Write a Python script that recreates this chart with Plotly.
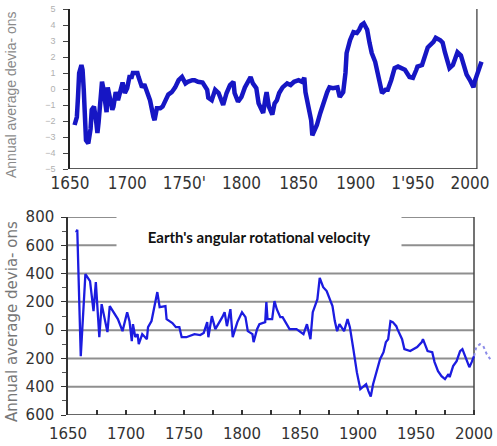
import plotly.graph_objects as go

# ---------------- data ----------------
# Top panel: annual average deviations (upper chart)
top_years = [1654, 1656, 1657, 1658, 1660, 1661, 1662, 1663, 1664, 1666, 1668, 1669, 1671, 1673, 1674,
             1675, 1677, 1678, 1679, 1681, 1682, 1683, 1685, 1687, 1688, 1690, 1692, 1694, 1696, 1698,
             1700, 1702, 1704, 1705, 1709, 1710, 1713, 1715, 1717, 1720, 1723, 1724, 1726, 1729, 1731,
             1734, 1736, 1739, 1742, 1745, 1748, 1751, 1753, 1757, 1759, 1762, 1764, 1766, 1770, 1771,
             1774, 1777, 1780, 1782, 1784, 1787, 1790, 1793, 1794, 1797, 1800, 1803, 1806, 1808, 1810,
             1813, 1815, 1817, 1819, 1821, 1822, 1824, 1827, 1829, 1831, 1833, 1836, 1840, 1843, 1846,
             1850, 1853, 1855, 1856, 1858, 1861, 1862, 1864, 1866, 1869, 1871, 1875, 1877, 1880, 1884,
             1886, 1889, 1891, 1892, 1895, 1898, 1901, 1903, 1905, 1907, 1910, 1912, 1914, 1917, 1919,
             1920, 1923, 1926, 1928, 1931, 1934, 1937, 1940, 1943, 1947, 1950, 1953, 1954, 1958, 1961,
             1963, 1968, 1970, 1974, 1976, 1978, 1980, 1982, 1985, 1989, 1992, 1994, 1997, 2000, 2003,
             2004, 2006, 2009, 2010]
top_vals = [-2.25, -1.75, -0.5, 1.0, 1.5, 1.2, 0.0, -1.75, -3.2, -3.4, -2.5, -1.3, -1.1, -2.1, -2.75,
            -2.1, -0.7, 0.45, 0.1, -1.1, -1.45, 0.1, -0.55, -1.3, -1.1, -0.2, -0.7, -0.05, 0.4, -0.25,
            0.05, 0.75, 0.75, 1.0, 1.0, 0.75, 0.1, 0.3, -0.05, -0.7, -1.75, -1.95, -1.2, -1.2, -1.1,
            -0.7, -0.35, -0.2, 0.1, 0.55, 0.75, 0.35, 0.45, 0.55, 0.55, 0.45, 0.45, 0.4, -0.05, -0.55,
            -0.7, -0.05, -0.25, -0.55, -1.0, -0.25, 0.25, 0.45, -0.25, -0.8, -0.5, 0.1, 0.55, 0.75, 0.35,
            0.05, -0.9, -1.3, -1.5, -0.55, -0.2, -1.1, -1.6, -0.9, -0.7, -0.25, 0.1, 0.35, 0.25, 0.45,
            0.55, 0.45, 0.7, -0.2, -1.0, -1.95, -2.9, -2.55, -2.25, -1.5, -1.0, -0.2, 0.1, 0.05, 0.1,
            -0.5, -0.2, 1.0, 2.25, 3.05, 3.55, 3.5, 3.7, 4.0, 4.1, 3.7, 2.9, 2.25, 1.7, 1.05,
            0.45, -0.25, -0.05, -0.05, 0.55, 1.3, 1.4, 1.3, 1.2, 0.75, 0.7, 1.2, 1.4, 1.5, 2.25,
            2.6, 2.95, 3.2, 3.05, 2.9, 2.3, 1.8, 1.3, 1.5, 2.3, 2.1, 1.5, 0.9, 0.55, 0.1,
            0.45, 0.9, 1.4, 1.7]

top_yticks = [-5, -4, -3, -2, -1, 0, 1, 2, 3, 4, 5]
top_xticks = [1650, 1700, 1750, 1800, 1850, 1900, 1950, 2000]
top_xlabels = ["1650", "1700", "1750'", "1800", "1850", "1900", "1'950", "2000"]

# Bottom panel: Earth's angular rotational velocity
bot_years = [1657, 1658, 1661, 1665, 1669, 1672, 1674, 1677, 1679, 1682, 1684, 1686, 1693, 1697, 1701,
             1703, 1705, 1706, 1708, 1710, 1711, 1714, 1718, 1719, 1722, 1727, 1729, 1734, 1735, 1740,
             1743, 1746, 1748, 1752, 1759, 1764, 1767, 1770, 1771, 1774, 1777, 1783, 1785, 1787, 1790,
             1792, 1796, 1800, 1803, 1805, 1809, 1810, 1813, 1815, 1820, 1821, 1822, 1826, 1828, 1830,
             1833, 1835, 1839, 1841, 1847, 1853, 1856, 1859, 1861, 1865, 1867, 1870, 1873, 1878, 1880,
             1882, 1884, 1888, 1891, 1893, 1896, 1899, 1902, 1904, 1907, 1909, 1911, 1913, 1916, 1919,
             1922, 1924, 1926, 1928, 1930, 1933, 1934, 1938, 1940, 1945, 1951, 1955, 1956, 1959, 1960,
             1964, 1966, 1969, 1972, 1975, 1978, 1979, 1982, 1985, 1988, 1990, 1993, 1996, 1998, 2000]
bot_vals = [690, 710, -184, 396, 346, 134, 340, -50, 184, 64, -14, 170, 78, -7, 127,
            64, -78, 42, -49, -28, -99, -28, -64, 21, 64, 269, 163, 170, 78, 50,
            21, 21, -50, -50, -28, -35, -20, 57, -50, 99, 7, 92, 127, 28, 148,
            -50, 57, 127, 92, -7, -28, -85, 7, 42, 57, 198, 78, 78, 205, 148,
            92, 92, 28, 7, 7, -28, 42, -64, 127, 219, 370, 304, 276, 170, 64,
            -7, 42, -7, 78, 21, -134, -297, -417, -403, -382, -431, -470, -382, -297, -205,
            -156, -85, -64, 64, 57, 28, 7, -64, -134, -148, -120, -85, -64, -120, -148,
            -156, -226, -290, -325, -346, -311, -332, -254, -219, -148, -134, -205, -262, -226, -184]
ext_years = [2000, 2002, 2005, 2008, 2011, 2014]
ext_vals = [-184, -120, -99, -113, -170, -205]

bot_yticks = [-600, -400, -200, 0, 200, 400, 600, 800]
bot_ylabels = ["600", "400", "200", "0", "200", "400", "600", "800"]
bot_xticks = [1650, 1700, 1750, 1800, 1850, 1900, 1950, 2000]
bot_grid = [-400, -200, 0, 200, 400, 600, 800]

title_text = "Earth's angular rotational velocity"
ytitle_text = "Annual average devia- ons"

# ---------------- figure ----------------
W, H = 497, 446
fig = go.Figure()

fig.add_trace(go.Scatter(x=top_years, y=top_vals, mode="lines", xaxis="x", yaxis="y",
                         line=dict(color="#1616c4", width=4.5), hoverinfo="skip"))
fig.add_trace(go.Scatter(x=bot_years, y=bot_vals, mode="lines", xaxis="x2", yaxis="y2",
                         line=dict(color="#1c1ce0", width=2.3), hoverinfo="skip"))
fig.add_trace(go.Scatter(x=ext_years, y=ext_vals, mode="lines", xaxis="x2", yaxis="y2",
                         line=dict(color="#8c8ce8", width=2, dash="dot"), hoverinfo="skip"))

narrow = "Liberation Sans Narrow, DejaVu Sans Condensed, Liberation Sans, Arial"
wide = "DejaVu Sans, Verdana, sans-serif"

fig.update_layout(
    width=W, height=H,
    margin=dict(l=0, r=0, t=0, b=0, autoexpand=False),
    paper_bgcolor="white", plot_bgcolor="white",
    showlegend=False,
    xaxis=dict(domain=[70 / W, 1.0], range=[1650, 1650 + (W - 70) / 1.143], anchor="y",
               automargin=False,
               tickvals=top_xticks, ticktext=top_xlabels, showgrid=False, zeroline=False,
               showline=False, ticks="", ticklabelstandoff=2,
               tickfont=dict(family=narrow, size=17, color="#333333")),
    yaxis=dict(domain=[(H - 169) / H, (H - 9) / H], range=[-5, 5], anchor="x",
               automargin=False,
               tickvals=top_yticks, showgrid=False, zeroline=False,
               showline=True, linecolor="#222222", linewidth=1.5,
               ticks="outside", ticklen=5, tickcolor="#444444", ticklabelstandoff=6,
               tickfont=dict(family="Liberation Sans, Arial", size=9, color="#b0b0b0")),
    xaxis2=dict(domain=[68 / W, 1.0], range=[1650, 1650 + (W - 68) / 1.16], anchor="y2",
                automargin=False,
                tickvals=bot_xticks, showgrid=False, zeroline=False, showline=False,
                ticks="inside", ticklen=5, tickwidth=1.5, tickcolor="#333333",
                minor=dict(dtick=25, tick0=1650, ticks="inside", ticklen=5, tickwidth=1.5,
                           tickcolor="#333333"),
                ticklabelstandoff=8,
                tickfont=dict(family=wide, size=15, color="#333333")),
    yaxis2=dict(domain=[(H - 415) / H, (H - 217) / H], range=[-600, 800], anchor="x2",
                automargin=False,
                tickvals=bot_yticks, ticktext=bot_ylabels, showgrid=False, zeroline=False,
                showline=True, linecolor="#333333", linewidth=1.5,
                ticks="outside", ticklen=5, tickcolor="#333333",
                minor=dict(dtick=100, ticks="outside", ticklen=4, tickcolor="#555555"),
                ticklabelstandoff=4,
                tickfont=dict(family=wide, size=15, color="#333333")),
)

shapes = []
# top panel frame lines
shapes.append(dict(type="line", xref="x", yref="y", x0=1650, x1=2006, y0=-5, y1=-5,
                   line=dict(color="#222222", width=1.5), layer="below"))
shapes.append(dict(type="line", xref="x", yref="y", x0=2006, x1=2006, y0=-5, y1=5,
                   line=dict(color="#333333", width=1.2), layer="below"))
# bottom panel gridlines and frame
for g in bot_grid:
    shapes.append(dict(type="line", xref="x2", yref="y2", x0=1650, x1=2000, y0=g, y1=g,
                       line=dict(color="#8f8f8f", width=2), layer="below"))
shapes.append(dict(type="line", xref="x2", yref="y2", x0=1650, x1=2000, y0=-600, y1=-600,
                   line=dict(color="#333333", width=1.5), layer="below"))
shapes.append(dict(type="line", xref="x2", yref="y2", x0=2000, x1=2000, y0=-600, y1=800,
                   line=dict(color="#444444", width=1.5), layer="below"))
fig.update_layout(shapes=shapes)

fig.add_annotation(text=title_text, xref="paper", yref="paper",
                   x=259 / W, y=(H - 237) / H, xanchor="center", yanchor="middle",
                   showarrow=False, width=282, height=46, bgcolor="white",
                   font=dict(family="Lato, Liberation Sans", size=15, color="#111111", weight="bold"))
fig.add_annotation(text=ytitle_text, xref="paper", yref="paper",
                   x=11 / W, y=(H - 95) / H, xanchor="center", yanchor="middle",
                   textangle=-90, showarrow=False,
                   font=dict(family="Liberation Sans, Arial", size=14, color="#8a8a8a"))
fig.add_annotation(text=ytitle_text, xref="paper", yref="paper",
                   x=12 / W, y=(H - 322) / H, xanchor="center", yanchor="middle",
                   textangle=-90, showarrow=False,
                   font=dict(family=wide, size=15, color="#777777"))

fig.write_html("out.html", config={"displayModeBar": False},
               post_script="document.body.style.margin='0px';document.body.style.overflow='hidden';")
